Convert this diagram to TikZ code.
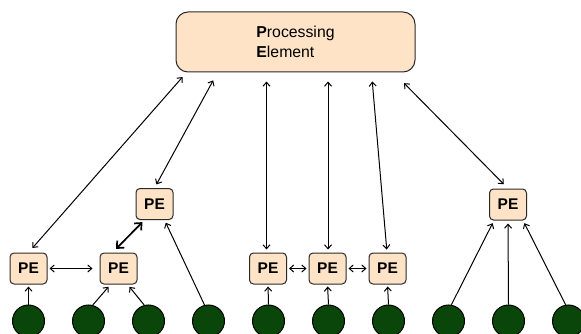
\documentclass[tikz,border=0pt]{standalone}
\usepackage{fontspec}
\setmainfont{Liberation Sans}
\usetikzlibrary{arrows.meta,calc}
\definecolor{peach}{HTML}{FEE3C6}
\definecolor{leaf}{HTML}{0A450A}
\definecolor{edge}{HTML}{2A2A2A}
\tikzset{
  pebox/.style={draw=edge, line width=1pt, fill=peach, rounded corners=4pt,
    minimum width=37pt, minimum height=31pt, inner sep=0pt,
    font=\fontsize{15.5}{18}\selectfont\bfseries},
  mainbox/.style={draw=edge, line width=1pt, fill=peach, rounded corners=12pt,
    minimum width=239pt, minimum height=60pt, inner sep=0pt, align=left,
    font=\fontsize{15.8}{19.5}\selectfont},
  src/.style={circle, draw=black, line width=1pt, fill=leaf,
    minimum size=32pt, inner sep=0pt},
  barb/.tip={Straight Barb[length=4pt,width=7pt,line width=1pt]},
  bigbarb/.tip={Straight Barb[length=5.5pt,width=10pt,line width=1.7pt]},
  uni/.style={line width=1pt, -{barb}},
  bi/.style={line width=1pt, {barb}-{barb}},
  thickbi/.style={line width=1.7pt, {bigbarb}-{bigbarb}},
}
\begin{document}
\begin{tikzpicture}[x=1pt,y=-1pt]
  \useasboundingbox (0,0) rectangle (581,334);

  % central element
  \node[mainbox] (top) at (295.5,42) {\textbf{P}rocessing\\\textbf{E}lement};

  % processing elements
  \node[pebox] (pe1) at (28.5,268.5) {PE};
  \node[pebox] (pe2) at (118.5,268.5) {PE};
  \node[pebox] (pe3) at (154.5,204) {PE};
  \node[pebox] (pe4) at (268,268.5) {PE};
  \node[pebox] (pe5) at (327.5,268.5) {PE};
  \node[pebox] (pe6) at (387.5,268.5) {PE};
  \node[pebox] (pe7) at (508,204.5) {PE};

  % data sources
  \foreach \i in {1,...,10}
    \node[src] (c\i) at ({28.5+60*(\i-1)},321) {};

  % links to the central element
  \draw[bi, shorten <=6pt, shorten >=6pt] (pe1.north) -- ($(top.south west)+(11,0)$);
  \draw[bi, shorten <=4pt, shorten >=9pt] (pe3.north) -- ($(top.south west)+(42,0)$);
  \draw[bi, shorten <=3pt, shorten >=9pt] ($(pe4.north)+(-1.5,0)$) coordinate (u4) -- (u4 |- top.south);
  \draw[bi, shorten <=3pt, shorten >=9pt] ($(pe5.north)+(0.5,0)$) coordinate (u5) -- (u5 |- top.south);
  \draw[bi, shorten <=3pt, shorten >=9pt] ($(pe6.north)+(-0.5,0)$) -- ($(top.south east)+(-44,0)$);
  \draw[bi, shorten <=6pt, shorten >=15pt] (pe7.north) -- ($(top.south east)+(-22,0)$);

  % links between processing elements
  \draw[bi, shorten <=2pt, shorten >=7pt] (pe1.east) -- (pe2.west);
  \draw[thickbi, shorten <=5pt, shorten >=3pt]
    ($(pe2.north)+(-6,0)$) -- ($(pe3.south)+(-10,0)$);
  \draw[bi, shorten <=2pt, shorten >=2pt] (pe4.east) -- (pe5.west);
  \draw[bi, shorten <=2pt, shorten >=2pt] (pe5.east) -- (pe6.west);

  % sources feeding the processing elements
  \draw[uni, shorten >=2pt] (c1.north) -- (pe1.south);
  \draw[uni, shorten >=3pt] (c2.75) -- ($(pe2.south)+(-8,0)$);
  \draw[uni, shorten >=3pt] (c3.105) -- ($(pe2.south)+(9,0)$);
  \draw[uni, shorten >=3pt] (c4.104) -- ($(pe3.south)+(10,0)$);
  \draw[uni, shorten >=2pt] (c5.north) -- (pe4.south);
  \draw[uni, shorten >=2pt] (c6.north) -- (pe5.south);
  \draw[uni, shorten >=2pt] (c7.north) -- (pe6.south);
  \draw[uni, shorten >=3pt] (c8.80) -- ($(pe7.south)+(-14,0)$);
  \draw[uni, shorten >=3pt] (c9.north) -- (pe7.south);
  \draw[uni, shorten >=3pt] (c10.100) -- ($(pe7.south)+(15,0)$);
\end{tikzpicture}
\end{document}
